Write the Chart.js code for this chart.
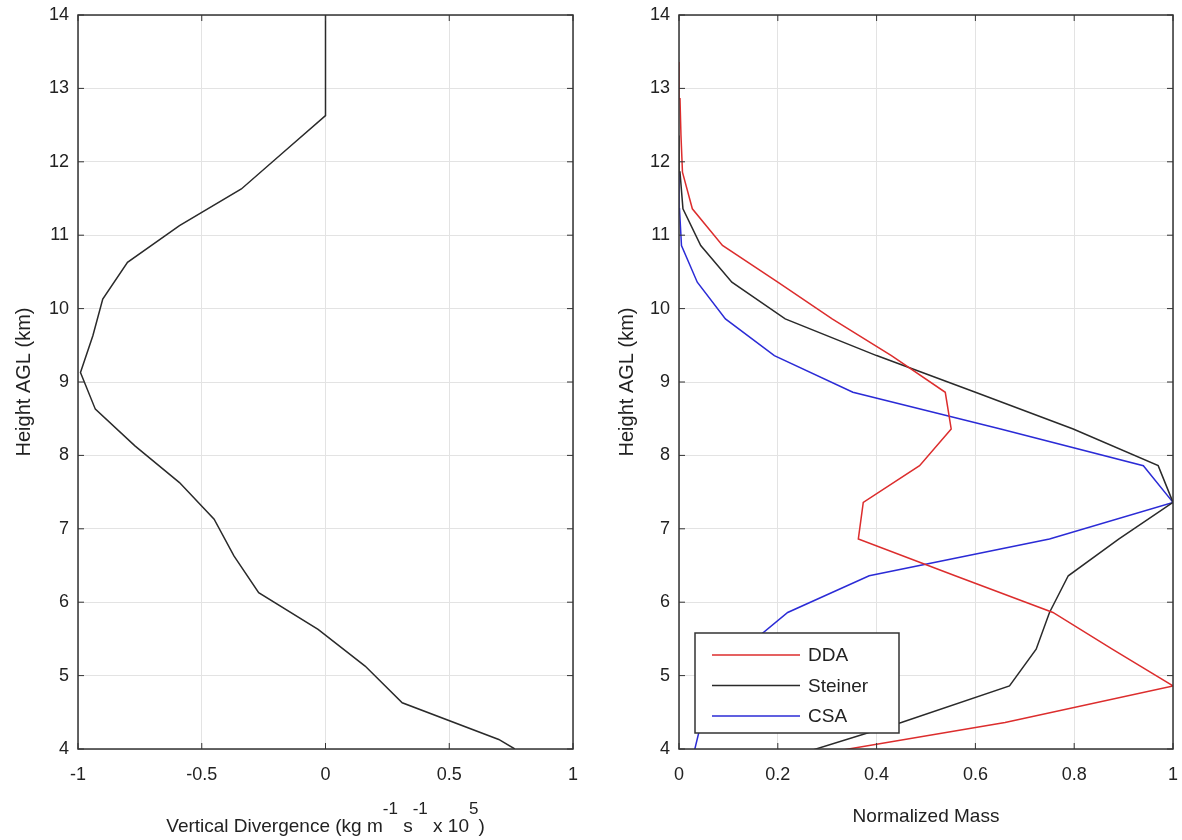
<!DOCTYPE html>
<html>
<head>
<meta charset="utf-8">
<title>Vertical divergence and normalized mass profiles</title>
<script src="https://cdn.jsdelivr.net/npm/chart.js@4.4.1/dist/chart.umd.min.js"></script>
<style>
    body { margin: 0; background: #fff; overflow: hidden; }
    #divergence { position: absolute; left: 0; top: 0; }
    #mass { position: absolute; left: 600px; top: 0; }
</style>
</head>
<body>
<canvas id="divergence" width="600" height="840"></canvas>
<canvas id="mass" width="582" height="840"></canvas>
<script>
// left panel: vertical divergence profile
var divHeights = [4.0, 4.13, 4.63, 5.13, 5.63, 6.13, 6.63, 7.13, 7.63, 8.13, 8.63, 9.13, 9.63, 10.13, 10.63, 11.13, 11.63, 12.13, 12.63, 14.0];
var divValues  = [0.765, 0.70, 0.31, 0.16, -0.03, -0.27, -0.37, -0.45, -0.59, -0.77, -0.93, -0.99, -0.94, -0.90, -0.80, -0.59, -0.34, -0.17, 0, 0];

// right panel: normalized mass profiles
var massHeights   = [3.86, 4.36, 4.86, 5.36, 5.86, 6.36, 6.86, 7.36, 7.86, 8.36, 8.86, 9.36, 9.86, 10.36, 10.86, 11.36, 11.86, 12.36, 12.86, 13.36];
var ddaValues     = [0.22, 0.66, 1.0, 0.877, 0.757, 0.559, 0.363, 0.373, 0.487, 0.551, 0.539, 0.43, 0.31, 0.20, 0.088, 0.027, 0.007, 0.004, 0.002, 0];
var steinerValues = [0.21, 0.45, 0.669, 0.723, 0.75, 0.788, 0.89, 1.0, 0.97, 0.798, 0.60, 0.40, 0.215, 0.107, 0.044, 0.008, 0.002, 0, null, null];
var csaValues     = [0.027, 0.045, 0.09, 0.13, 0.22, 0.385, 0.75, 1.0, 0.94, 0.651, 0.352, 0.193, 0.094, 0.037, 0.005, 0.001, 0, null, null, null];
var seriesNames   = ['DDA', 'Steiner', 'CSA'];

Chart.defaults.font.family = '"Liberation Sans", Arial, Helvetica, sans-serif';
Chart.defaults.color = '#222';

var textColor = '#222';
var gridColor = '#e3e3e3';

function toPoints(heights, values) {
    var pts = [];
    for (var i = 0; i < heights.length; i++) {
        if (values[i] !== null) pts.push({ x: values[i], y: heights[i] });
    }
    return pts;
}

// "-1", "-0.5", "0.6" instead of "-1.0" etc
function plainTick(value) {
    return String(Math.round(value * 100) / 100);
}

/* box around plot and inward tick marks (matlab look) */
var framePlugin = {
    id: 'frame',
    afterDatasetsDraw: function(chart) {
        var ctx = chart.ctx, a = chart.chartArea;
        var xs = chart.scales.x, ys = chart.scales.y;
        ctx.save();
        ctx.strokeStyle = '#333';
        ctx.lineWidth = 1;
        ctx.beginPath();
        xs.ticks.forEach(function(t) {
            var px = xs.getPixelForValue(t.value);
            ctx.moveTo(px, a.bottom); ctx.lineTo(px, a.bottom - 6);
            ctx.moveTo(px, a.top); ctx.lineTo(px, a.top + 6);
        });
        ys.ticks.forEach(function(t) {
            var py = ys.getPixelForValue(t.value);
            ctx.moveTo(a.left, py); ctx.lineTo(a.left + 6, py);
            ctx.moveTo(a.right, py); ctx.lineTo(a.right - 6, py);
        });
        ctx.stroke();
        ctx.lineWidth = 1.5;
        ctx.strokeRect(a.left, a.top, a.right - a.left, a.bottom - a.top);
        ctx.restore();
    }
};

/* x title with superscripts for the left panel */
var divTitlePlugin = {
    id: 'divTitle',
    afterDraw: function(chart) {
        var ctx = chart.ctx, a = chart.chartArea;
        var parts = [
            ['Vertical Divergence (kg m', false],
            ['-1', true],
            [' s', false],
            ['-1', true],
            [' x 10', false],
            ['5', true],
            [')', false]
        ];
        var mainFont = '19px "Liberation Sans", Arial, sans-serif';
        var supFont = '17px "Liberation Sans", Arial, sans-serif';
        ctx.save();
        var total = 0;
        parts.forEach(function(p) {
            ctx.font = p[1] ? supFont : mainFont;
            total += ctx.measureText(p[0]).width;
        });
        var x = (a.left + a.right) / 2 - total / 2;
        var base = 832;
        ctx.fillStyle = textColor;
        ctx.textAlign = 'left';
        ctx.textBaseline = 'alphabetic';
        parts.forEach(function(p) {
            ctx.font = p[1] ? supFont : mainFont;
            ctx.fillText(p[0], x, p[1] ? base - 18 : base);
            x += ctx.measureText(p[0]).width;
        });
        ctx.restore();
    }
};

/* legend box inside the lower left corner of the right panel */
var legendPlugin = {
    id: 'legendBox',
    afterDraw: function(chart) {
        var ctx = chart.ctx, a = chart.chartArea;
        var left = a.left + 16, top = a.bottom - 116, w = 204, h = 100;
        ctx.save();
        ctx.fillStyle = '#fff';
        ctx.fillRect(left, top, w, h);
        ctx.strokeStyle = '#333';
        ctx.lineWidth = 1.5;
        ctx.strokeRect(left, top, w, h);
        ctx.font = '19px "Liberation Sans", Arial, sans-serif';
        ctx.textBaseline = 'middle';
        ctx.textAlign = 'left';
        chart.data.datasets.forEach(function(ds, i) {
            var y = top + 22 + i * 30.5;
            ctx.strokeStyle = ds.borderColor;
            ctx.lineWidth = ds.borderWidth;
            ctx.beginPath();
            ctx.moveTo(left + 17, y);
            ctx.lineTo(left + 105, y);
            ctx.stroke();
            ctx.fillStyle = textColor;
            ctx.fillText(ds.label, left + 113, y + 1);
        });
        ctx.restore();
    }
};

function heightAxis(width, titlePad) {
    return {
        type: 'linear',
        min: 4,
        max: 14,
        ticks: { stepSize: 1, padding: 9, color: textColor, font: { size: 18 }, callback: plainTick },
        grid: { color: gridColor, drawTicks: false },
        border: { display: false },
        title: { display: true, text: 'Height AGL (km)', color: textColor, font: { size: 20 }, padding: { top: titlePad } },
        afterFit: function(scale) {
            scale.width = width;
            scale.paddingTop = 0;
            scale.paddingBottom = 0;
        }
    };
}

function massAxis(min, max, step, title) {
    var axis = {
        type: 'linear',
        min: min,
        max: max,
        ticks: { stepSize: step, padding: 15, color: textColor, font: { size: 18 }, callback: plainTick },
        grid: { color: gridColor, drawTicks: false },
        border: { display: false },
        afterFit: function(scale) {
            scale.height = 91;
            scale.paddingLeft = 0;
            scale.paddingRight = 0;
        }
    };
    if (title) {
        axis.title = { display: true, text: title, color: textColor, font: { size: 19 }, padding: { top: 0, bottom: 12 } };
    }
    return axis;
}

/* left chart */
var divChart = new Chart(document.getElementById('divergence'), {
    type: 'scatter',
    data: {
        datasets: [{
            label: 'Vertical Divergence',
            data: toPoints(divHeights, divValues),
            showLine: true,
            borderColor: '#2a2a2a',
            borderWidth: 1.5,
            pointRadius: 0,
            fill: false
        }]
    },
    options: {
        responsive: false,
        animation: false,
        devicePixelRatio: 1,
        layout: { padding: { top: 15, right: 27, left: 0, bottom: 0 } },
        plugins: { legend: { display: false }, tooltip: { enabled: false } },
        scales: {
            x: massAxis(-1, 1, 0.5, null),
            y: heightAxis(78, 12)
        }
    },
    plugins: [framePlugin, divTitlePlugin]
});

/* right chart */
var massColors = ['#dc2d2d', '#2a2a2a', '#2b2bd6'];
var massSeries = [ddaValues, steinerValues, csaValues];
var massDatasets = [];
for (var i = 0; i < massSeries.length; i++) {
    massDatasets.push({
        label: seriesNames[i],
        data: toPoints(massHeights, massSeries[i]),
        showLine: true,
        borderColor: massColors[i],
        borderWidth: 1.5,
        pointRadius: 0,
        fill: false
    });
}

var massChart = new Chart(document.getElementById('mass'), {
    type: 'scatter',
    data: { datasets: massDatasets },
    options: {
        responsive: false,
        animation: false,
        devicePixelRatio: 1,
        layout: { padding: { top: 15, right: 9, left: 0, bottom: 0 } },
        plugins: { legend: { display: false }, tooltip: { enabled: false } },
        scales: {
            x: massAxis(0, 1, 0.2, 'Normalized Mass'),
            y: heightAxis(79, 15)
        }
    },
    plugins: [framePlugin, legendPlugin]
});
</script>
</body>
</html>
